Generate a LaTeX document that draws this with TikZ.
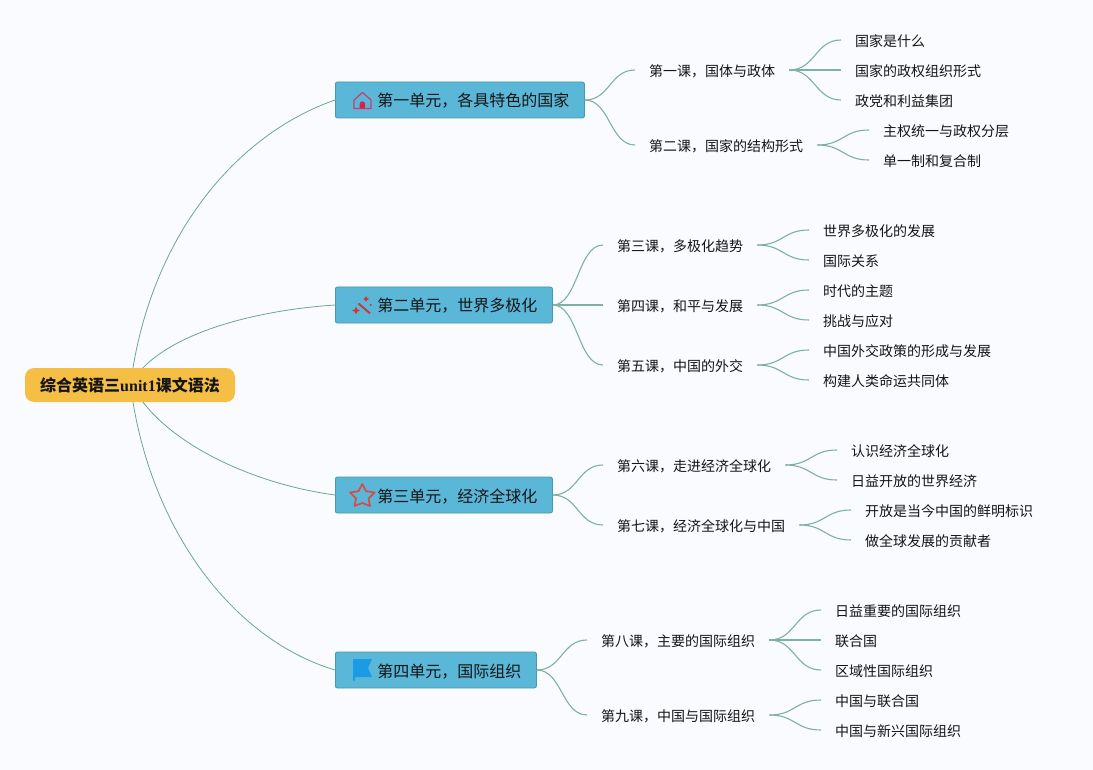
\documentclass[tikz,border=0pt]{standalone}
\usepackage{fontspec}
\setmainfont{Noto Sans CJK SC}
\newfontfamily\latfont{Liberation Serif}
\usetikzlibrary{calc}
\definecolor{bgc}{HTML}{F9FBFF}
\definecolor{linec}{HTML}{6BA598}
\definecolor{sublinec}{HTML}{7FB0A5}
\definecolor{unitc}{HTML}{5BB7D8}
\definecolor{unitb}{HTML}{4A9A9E}
\definecolor{rootc}{HTML}{F5BE45}
\definecolor{inkc}{HTML}{151515}
\definecolor{houseline}{HTML}{C83C6E}
\definecolor{housedoor}{HTML}{E11E46}
\definecolor{wandc}{HTML}{C33C3C}
\definecolor{sparkc}{HTML}{D73232}
\definecolor{starc}{HTML}{D74B46}
\definecolor{flagc}{HTML}{199BE6}
\tikzset{x=1pt,y=-1pt,
  rootbox/.style={fill=rootc,rounded corners=9pt,minimum width=210pt,minimum height=34pt,inner sep=0pt,text=inkc,font=\fontsize{16}{16}\selectfont\bfseries,text height=14pt,text depth=2pt},
  unitbox/.style={draw=unitb,fill=unitc,line width=.8pt,rounded corners=2pt,minimum height=36pt,inner sep=0pt,text=inkc,font=\fontsize{16}{16}\selectfont,anchor=west,align=left,text height=16pt,text depth=2pt},
  lessonbox/.style={inner xsep=14pt,inner ysep=0pt,anchor=west,text=inkc,font=\fontsize{14}{14}\selectfont,text height=15pt,text depth=2pt},
  mainlink/.style={draw=linec,line width=.8pt},
  sublink/.style={draw=sublinec,line width=1.1pt},
}
\newcommand{\slink}[2]{\draw[sublink] (#1.east) .. controls ($(#1.east)!.5!(#2.west |- #1.east)$) and ($(#2.west)!.5!(#1.east |- #2.west)$) .. (#2.west);}
\begin{document}
\begin{tikzpicture}
\useasboundingbox (0,0) rectangle (1093,770);
\fill[bgc] (0,0) rectangle (1093,770);
% root
\node[rootbox] (root) at (130,385) {综合英语三{\latfont unit1}课文语法};
% units
\node[unitbox,minimum width=249pt] (u1) at (335,100) {\hspace{27pt}第一单元，各具特色的国家};
\node[unitbox,minimum width=217pt] (u2) at (335,305) {\hspace{27pt}第二单元，世界多极化};
\node[unitbox,minimum width=217pt] (u3) at (335,495) {\hspace{27pt}第三单元，经济全球化};
\node[unitbox,minimum width=201pt] (u4) at (335,670) {\hspace{27pt}第四单元，国际组织};
% lessons
\node[lessonbox] (l1) at (635,70) {第一课，国体与政体};
\node[lessonbox] (l2) at (635,145) {第二课，国家的结构形式};
\node[lessonbox] (l3) at (603,245) {第三课，多极化趋势};
\node[lessonbox] (l4) at (603,305) {第四课，和平与发展};
\node[lessonbox] (l5) at (603,365) {第五课，中国的外交};
\node[lessonbox] (l6) at (603,465) {第六课，走进经济全球化};
\node[lessonbox] (l7) at (603,525) {第七课，经济全球化与中国};
\node[lessonbox] (l8) at (587,640) {第八课，主要的国际组织};
\node[lessonbox] (l9) at (587,715) {第九课，中国与国际组织};
% topics
\node[lessonbox] (a1) at (841,40) {国家是什么};
\node[lessonbox] (a2) at (841,70) {国家的政权组织形式};
\node[lessonbox] (a3) at (841,100) {政党和利益集团};
\node[lessonbox] (b1) at (869,130) {主权统一与政权分层};
\node[lessonbox] (b2) at (869,160) {单一制和复合制};
\node[lessonbox] (c1) at (809,230) {世界多极化的发展};
\node[lessonbox] (c2) at (809,260) {国际关系};
\node[lessonbox] (d1) at (809,290) {时代的主题};
\node[lessonbox] (d2) at (809,320) {挑战与应对};
\node[lessonbox] (e1) at (809,350) {中国外交政策的形成与发展};
\node[lessonbox] (e2) at (809,380) {构建人类命运共同体};
\node[lessonbox] (f1) at (837,450) {认识经济全球化};
\node[lessonbox] (f2) at (837,480) {日益开放的世界经济};
\node[lessonbox] (g1) at (851,510) {开放是当今中国的鲜明标识};
\node[lessonbox] (g2) at (851,540) {做全球发展的贡献者};
\node[lessonbox] (h1) at (821,610) {日益重要的国际组织};
\node[lessonbox] (h2) at (821,640) {联合国};
\node[lessonbox] (h3) at (821,670) {区域性国际组织};
\node[lessonbox] (i1) at (821,700) {中国与联合国};
\node[lessonbox] (i2) at (821,730) {中国与新兴国际组织};
% root links
\draw[mainlink] ($(root.north)+(3,0)$) .. controls (155,235) and (235,135) .. (u1.west);
\draw[mainlink] ($(root.north)+(13,0)$) .. controls (180,330) and (260,310) .. (u2.west);
\draw[mainlink] ($(root.south)+(13,0)$) .. controls (180,450) and (260,485) .. (u3.west);
\draw[mainlink] ($(root.south)+(3,0)$) .. controls (155,535) and (235,640) .. (u4.west);
% unit links
\slink{u1}{l1}\slink{u1}{l2}
\slink{u2}{l3}\slink{u2}{l4}\slink{u2}{l5}
\slink{u3}{l6}\slink{u3}{l7}
\slink{u4}{l8}\slink{u4}{l9}
% lesson links
\slink{l1}{a1}\slink{l1}{a2}\slink{l1}{a3}
\slink{l2}{b1}\slink{l2}{b2}
\slink{l3}{c1}\slink{l3}{c2}
\slink{l4}{d1}\slink{l4}{d2}
\slink{l5}{e1}\slink{l5}{e2}
\slink{l6}{f1}\slink{l6}{f2}
\slink{l7}{g1}\slink{l7}{g2}
\slink{l8}{h1}\slink{l8}{h2}\slink{l8}{h3}
\slink{l9}{i1}\slink{l9}{i2}
% icons
\draw[draw=houseline,line width=1.2pt,line join=round] (354,100) -- (362.5,92.5) -- (371,100) -- (371,108.5) -- (354,108.5) -- cycle;
\fill[housedoor] (359.7,108.5) -- (359.7,104) .. controls (359.7,100.5) and (365.1,100.5) .. (365.1,104) -- (365.1,108.5) -- cycle;
\draw[draw=wandc,line width=2pt] (358.5,303.5) -- (370,313.3);
\fill[sparkc] (356,306.5) -- (357.2,309.3) -- (360,310.5) -- (357.2,311.7) -- (356,314.5) -- (354.8,311.7) -- (352,310.5) -- (354.8,309.3) -- cycle;
\fill[sparkc] (366,296) -- (367,298) -- (369,299) -- (367,300) -- (366,302) -- (365,300) -- (363,299) -- (365,298) -- cycle;
\fill[sparkc] (370.7,305) circle[radius=1.2pt];
\draw[draw=starc,line width=1.7pt,line join=round] (362.3,484)
  -- (366.1,491.2) -- (374.7,492.5) -- (368.5,498.5) -- (370,506) -- (362.3,503) -- (354.6,506) -- (356.1,498.5) -- (350,492.5) -- (358.5,491.2) -- cycle;
\fill[flagc] (353,659) -- (372,659) -- (368,668) -- (372,677) -- (355,677) -- (355,680.5) -- (353,680.5) -- cycle;
\end{tikzpicture}
\end{document}
